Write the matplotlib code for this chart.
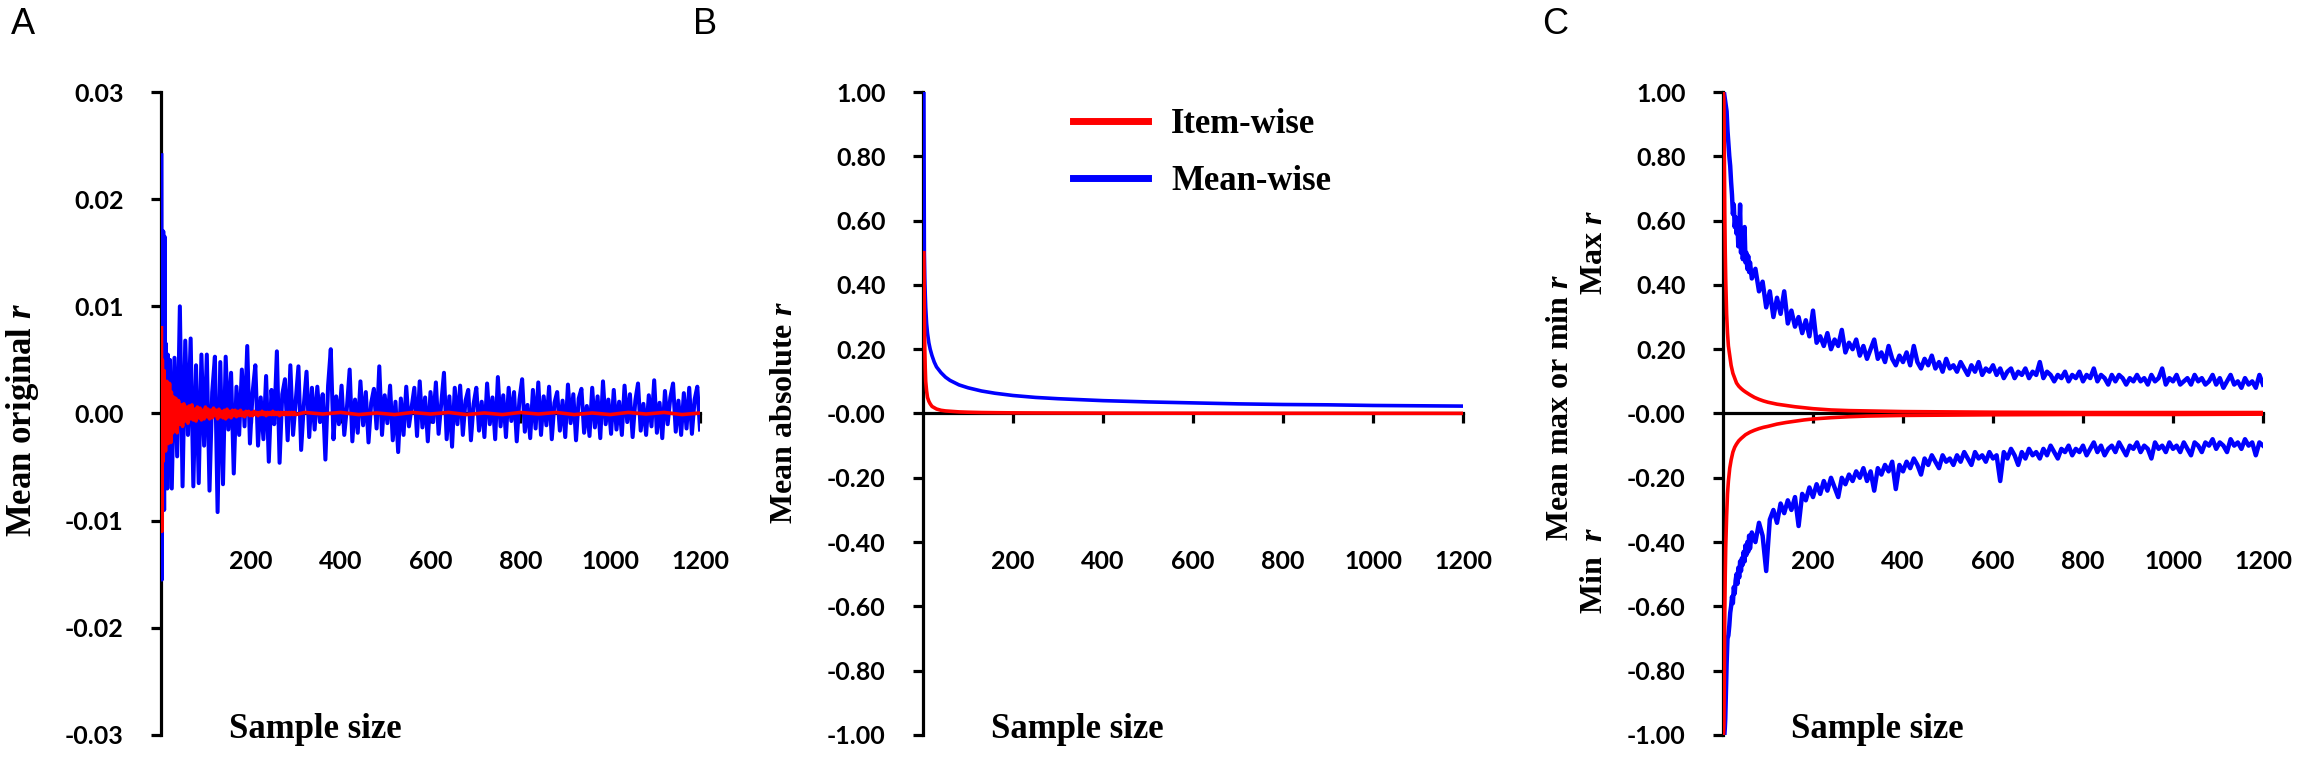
import numpy as np
import matplotlib
matplotlib.use('Agg')
import matplotlib.pyplot as plt
from matplotlib.ticker import FormatStrFormatter

plt.rcParams['font.family'] = ['Lato', 'DejaVu Sans']
plt.rcParams['font.weight'] = 'bold'
plt.rcParams['axes.unicode_minus'] = False
plt.rcParams['mathtext.fontset'] = 'custom'
plt.rcParams['mathtext.rm'] = 'Liberation Serif:bold'
plt.rcParams['mathtext.it'] = 'Liberation Serif:italic:bold'

RED = '#ff0000'
BLUE = '#0000ff'
SERIF = 'Liberation Serif'

# ---------------- Panel A : mean original r (values in units of 0.001) ----------------
n_a = np.concatenate([np.arange(1, 21), np.arange(24, 1201, 6)])
mean_a = [24.1, -15.5, 8.0, -6.0, 17.0, 3.0, -9.0, 16.5, 2.0, -6.5,
          6.5, -3.0, 4.0, -7.0, 5.5, 1.0, -4.0, 3.5, -2.5, 5.0,
          -7.0, 5.2, -4.0, 10.0, -6.8, 6.8, -2.0, 7.0, -6.8, 4.5,
          -6.5, 5.5, -3.0, 5.5, -7.2, 2.0, 5.3, -9.2, 4.8, -6.6,
          5.3, -1.5, 3.8, -5.6, 2.5, -2.0, 4.1, -1.2, 6.3, -2.8,
          2.0, 4.5, -3.0, 1.5, -2.4, 3.5, -4.5, 2.2, -1.0, 5.8,
          -4.6, 1.8, 3.2, -2.5, 4.5, -2.0, 1.2, 4.4, -3.4, 0.8,
          3.9, -2.2, 2.4, -1.5, 2.5, -0.8, 1.8, -4.3, 2.6, 6.0,
          -2.4, 1.6, -1.0, 2.6, -2.0, 0.6, 4.1, -2.6, 1.3, -1.8,
          3.0, -1.1, 2.0, -2.7, 1.0, 2.3, -1.4, 4.4, -2.0, 1.7,
          -0.9, 2.6, -2.5, 1.1, -3.6, 1.4, -2.0, 2.5, -1.2, 0.6,
          2.4, -2.1, 3.0, -1.3, 1.5, -2.6, 2.0, -0.8, 2.9, -1.9,
          1.0, 3.8, -2.4, 1.6, -3.1, 2.4, -1.0, 2.6, -2.0, 1.2,
          2.2, -2.5, 0.9, 2.4, -1.6, 1.1, -2.2, 2.8, -1.0, 1.5,
          -2.4, 3.4, -1.2, 1.7, -2.2, 2.4, -0.7, 2.0, -2.6, 1.3,
          3.2, -1.7, 0.8, -2.3, 2.2, -1.4, 2.9, -2.0, 1.6, -1.1,
          2.5, -2.4, 1.0, 2.0, -1.6, 1.2, -2.2, 2.7, -0.9, 1.8,
          -2.5, 1.4, 2.3, -1.8, 0.7, -2.1, 2.4, -1.3, 1.6, -2.3,
          3.0, -1.0, 1.3, -1.9, 2.2, -1.5, 1.1, -2.0, 2.6, -0.8,
          1.8, -2.2, 1.2, 2.8, -1.6, 0.9, -2.0, 1.7, -1.2, 3.1,
          -1.8, 1.0, -2.3, 2.1, -1.0, 1.5, 2.8, -1.7, 1.2, -2.0,
          1.9, -1.4, 2.4, -1.9, 1.3, 2.5, -1.5]

n_item_a = np.concatenate([np.arange(1, 31), np.arange(33, 301, 3), np.arange(320, 1201, 40)])
item_a = [8.0, -11.0, 5.0, -4.5, 3.5, -3.0, 4.0, -2.5, 2.0, -3.5,
          2.5, -1.5, 3.0, -2.0, 1.5, -2.8, 2.2, -1.2, 2.8, -2.0,
          1.0, -2.7, 2.0, -1.0, 1.6, -1.8, 1.2, -1.0, 1.5, -1.3,
          1.4, -1.8, 1.2, -1.0, 0.8, -1.2, 0.9, -0.7, 0.6, -0.9,
          0.7, -0.5, 0.8, -0.6, 0.4, -0.7, 0.6, -0.4, 0.5, -0.6,
          0.3, -0.5, 0.6, -0.3, 0.4, -0.5, 0.3, -0.4, 0.5, -0.2,
          0.3, -0.5, 0.4, -0.3, 0.2, -0.4, 0.3, -0.5, 0.4, -0.3,
          0.2, -0.4, 0.3, -0.2, 0.3, -0.3, 0.2, -0.2, 0.3, -0.2,
          0.1, -0.3, 0.2, -0.1, 0.2, -0.2, 0.1, -0.2, 0.2, -0.1,
          0.1, -0.2, 0.1, -0.1, 0.2, -0.1, 0.1, -0.2, 0.1, -0.1,
          0.1, -0.1, 0.2, -0.1, 0.1, -0.1, 0.1, -0.2, 0.1, -0.1,
          0.1, -0.1, 0.1, -0.1, 0.1, -0.1, 0.1, -0.1, 0.1, -0.1,
          0.1, -0.05, 0.1, -0.1, 0.05, -0.1, 0.1, -0.05, 0.1, -0.1,
          0.05, -0.1, 0.1, -0.05, 0.1, -0.1, 0.05, -0.1, 0.1, -0.05,
          0.1, -0.1, 0.05]

# ---------------- Panel B : mean absolute r ----------------
n_b = [2, 3, 4, 5, 6, 8, 10, 13, 16, 20, 25, 30, 40, 50, 60, 80, 100, 130, 160, 200,
       250, 300, 400, 500, 600, 700, 800, 900, 1000, 1100, 1200]
mean_b = [1.00, 0.50, 0.42, 0.37, 0.33, 0.28, 0.25, 0.22, 0.20, 0.18, 0.16, 0.145, 0.127,
          0.113, 0.103, 0.089, 0.080, 0.070, 0.063, 0.056, 0.050, 0.046, 0.040, 0.036,
          0.033, 0.030, 0.028, 0.027, 0.025, 0.024, 0.023]
item_b = [0.50, 0.30, 0.20, 0.14, 0.10, 0.07, 0.05, 0.038, 0.03, 0.022, 0.018, 0.014, 0.010,
          0.008, 0.007, 0.005, 0.004, 0.003, 0.0025, 0.002, 0.0017, 0.0015, 0.0012, 0.001,
          0.0009, 0.0008, 0.0007, 0.0007, 0.0006, 0.0006, 0.0005]

# ---------------- Panel C : mean max / min r ----------------
n_c = np.concatenate([np.arange(1, 11), np.arange(12, 61, 2), np.arange(64, 1201, 8)])
max_c = [1.00, 1.00, 0.99, 0.98, 0.97, 0.96, 0.95, 0.94, 0.91, 0.88,
         0.84, 0.80, 0.77, 0.72, 0.68, 0.62, 0.65, 0.58, 0.61, 0.56,
         0.60, 0.52, 0.57, 0.65, 0.50, 0.55, 0.48, 0.52, 0.58, 0.47,
         0.50, 0.45, 0.49, 0.44, 0.47,
         0.42, 0.45, 0.38, 0.41, 0.33, 0.38, 0.30, 0.36, 0.31, 0.38,
         0.28, 0.32, 0.27, 0.30, 0.25, 0.29, 0.24, 0.32, 0.22, 0.24,
         0.21, 0.25, 0.20, 0.23, 0.21, 0.26, 0.19, 0.22, 0.20, 0.23,
         0.18, 0.21, 0.17, 0.20, 0.23, 0.17, 0.19, 0.16, 0.21, 0.17,
         0.15, 0.18, 0.16, 0.19, 0.15, 0.21, 0.16, 0.14, 0.17, 0.15,
         0.18, 0.14, 0.16, 0.13, 0.17, 0.14, 0.15, 0.13, 0.16, 0.14,
         0.12, 0.15, 0.13, 0.16, 0.12, 0.14, 0.13, 0.15, 0.12, 0.14,
         0.11, 0.13, 0.14, 0.11, 0.13, 0.12, 0.14, 0.11, 0.13, 0.12,
         0.16, 0.11, 0.13, 0.12, 0.10, 0.12, 0.11, 0.13, 0.10, 0.12,
         0.11, 0.13, 0.10, 0.12, 0.11, 0.14, 0.10, 0.12, 0.11, 0.09,
         0.12, 0.10, 0.12, 0.11, 0.09, 0.11, 0.10, 0.12, 0.10, 0.11,
         0.09, 0.12, 0.10, 0.11, 0.14, 0.09, 0.11, 0.10, 0.12, 0.09,
         0.10, 0.11, 0.09, 0.12, 0.10, 0.11, 0.09, 0.10, 0.12, 0.09,
         0.11, 0.08, 0.10, 0.12, 0.09, 0.10, 0.08, 0.11, 0.09, 0.10,
         0.08, 0.12, 0.09]
min_c = [-1.00, -1.00, -1.00, -0.98, -0.95, -0.90, -0.84, -0.78, -0.74, -0.70,
         -0.69, -0.66, -0.62, -0.60, -0.57, -0.59, -0.54, -0.56, -0.52, -0.50,
         -0.53, -0.48, -0.51, -0.46, -0.49, -0.45, -0.47, -0.43, -0.46, -0.41,
         -0.44, -0.40, -0.43, -0.38, -0.42,
         -0.37, -0.40, -0.34, -0.38, -0.49, -0.33, -0.30, -0.34, -0.28, -0.31,
         -0.27, -0.30, -0.26, -0.35, -0.25, -0.27, -0.23, -0.26, -0.22, -0.25,
         -0.21, -0.24, -0.20, -0.23, -0.26, -0.20, -0.22, -0.19, -0.21, -0.18,
         -0.20, -0.17, -0.21, -0.18, -0.24, -0.17, -0.19, -0.16, -0.18, -0.15,
         -0.235, -0.16, -0.18, -0.15, -0.17, -0.14, -0.16, -0.19, -0.14, -0.16,
         -0.13, -0.15, -0.17, -0.13, -0.15, -0.14, -0.16, -0.13, -0.15, -0.12,
         -0.14, -0.16, -0.12, -0.14, -0.13, -0.15, -0.12, -0.14, -0.13, -0.21,
         -0.12, -0.14, -0.11, -0.13, -0.16, -0.12, -0.14, -0.11, -0.13, -0.12,
         -0.14, -0.11, -0.13, -0.10, -0.12, -0.14, -0.11, -0.12, -0.10, -0.13,
         -0.11, -0.12, -0.10, -0.13, -0.11, -0.09, -0.12, -0.10, -0.13, -0.11,
         -0.10, -0.12, -0.09, -0.11, -0.13, -0.10, -0.11, -0.09, -0.12, -0.10,
         -0.11, -0.14, -0.09, -0.11, -0.10, -0.12, -0.09, -0.11, -0.10, -0.12,
         -0.09, -0.11, -0.13, -0.09, -0.10, -0.12, -0.09, -0.10, -0.08, -0.11,
         -0.09, -0.10, -0.12, -0.08, -0.10, -0.09, -0.11, -0.08, -0.10, -0.09,
         -0.13, -0.09, -0.10]

n_item_c = [1, 2, 3, 4, 5, 6, 8, 10, 12, 15, 18, 22, 26, 30, 35, 40, 45, 50, 60, 70, 80,
            90, 100, 120, 140, 160, 180, 200, 240, 280, 320, 400, 500, 600, 800, 1000, 1200]
item_max_c = [1.0, 0.97, 0.80, 0.62, 0.50, 0.42, 0.31, 0.25, 0.21, 0.18, 0.15, 0.125, 0.11,
              0.095, 0.085, 0.078, 0.072, 0.067, 0.058, 0.050, 0.044, 0.039, 0.035, 0.029,
              0.025, 0.021, 0.018, 0.015, 0.011, 0.009, 0.008, 0.006, 0.005, 0.004, 0.003,
              0.003, 0.003]
item_min_c = [-1.0, -0.97, -0.80, -0.62, -0.50, -0.42, -0.32, -0.25, -0.21, -0.17, -0.145,
              -0.12, -0.105, -0.095, -0.085, -0.078, -0.072, -0.066, -0.058, -0.052, -0.047,
              -0.043, -0.040, -0.033, -0.028, -0.024, -0.020, -0.017, -0.013, -0.010, -0.008,
              -0.006, -0.005, -0.004, -0.003, -0.003, -0.002]

x_ticks = [200, 400, 600, 800, 1000, 1200]

# ---------------- figure ----------------
W, H = 2303, 760
fig = plt.figure(figsize=(W / 100, H / 100), dpi=100)
fig.patch.set_facecolor('white')


def add_axes_px(left, right, top, bottom):
    return fig.add_axes([left / W, 1 - bottom / H, (right - left) / W, (bottom - top) / H])


def style(ax, ylim, yticks, fmt):
    ax.set_xlim(0, 1200)
    ax.set_ylim(*ylim)
    ax.spines['top'].set_visible(False)
    ax.spines['right'].set_visible(False)
    ax.spines['bottom'].set_position(('data', 0))
    ax.spines['left'].set_linewidth(2.3)
    ax.spines['bottom'].set_linewidth(2.3)
    ax.set_xticks(x_ticks)
    ax.set_yticks(yticks)
    ax.yaxis.set_major_formatter(FormatStrFormatter(fmt))
    ax.tick_params(axis='both', direction='out', length=7, width=2.3, labelsize=18)
    ax.tick_params(axis='y', pad=20)
    ax.tick_params(axis='x', pad=91)
    ax.set_facecolor('none')


def sl(n, v):
    k = min(len(n), len(v))
    return np.asarray(n[:k]), np.asarray(v[:k])


LW = 2.6

# Panel A
axA = add_axes_px(161, 700, 92, 735)
x, y = sl(n_a, mean_a)
axA.plot(x, y / 1000, color=BLUE, lw=2.9, zorder=3)
x, y = sl(n_item_a, item_a)
axA.plot(x, y / 1000, color=RED, lw=LW, zorder=4)
style(axA, (-0.03, 0.03), [-0.03, -0.02, -0.01, 0.0, 0.01, 0.02, 0.03], '%.2f')

# Panel B
axB = add_axes_px(923, 1463, 92, 735)
axB.plot(n_b, item_b, color=RED, lw=LW, zorder=4, label='Item-wise')
axB.plot(n_b, mean_b, color=BLUE, lw=LW, zorder=3, label='Mean-wise')
style(axB, (-1, 1), np.round(np.arange(-1, 1.01, 0.2), 2), '%.2f')
leg = axB.legend(loc='upper left', bbox_to_anchor=(1073 / W, 1 - 108 / H),
                 bbox_transform=fig.transFigure, frameon=False,
                 prop={'family': SERIF, 'weight': 'bold', 'size': 25},
                 handlelength=2.15, handletextpad=0.68, labelspacing=0.7,
                 borderpad=0, borderaxespad=0)
for line in leg.get_lines():
    line.set_linewidth(5)

# Panel C
axC = add_axes_px(1723, 2263, 92, 735)
x, y = sl(n_c, max_c)
axC.plot(x, y, color=BLUE, lw=3.2, zorder=3)
x, y = sl(n_c, min_c)
axC.plot(x, y, color=BLUE, lw=3.2, zorder=3)
axC.plot(n_item_c, item_max_c, color=RED, lw=LW, zorder=4)
axC.plot(n_item_c, item_min_c, color=RED, lw=LW, zorder=4)
style(axC, (-1, 1), np.round(np.arange(-1, 1.01, 0.2), 2), '%.2f')


def ftext(px, py, s, **kw):
    fig.text(px / W, 1 - py / H, s, ha='center', va='center', **kw)


lab = dict(family=SERIF, weight='bold', rotation=90, rotation_mode='anchor')
ftext(23, 420, 'Mean original $r$', size=25, **lab)
ftext(785, 413, 'Mean absolute $r$', size=23, **lab)
ftext(1561, 407, 'Mean max or min $r$', size=23, **lab)
ftext(1594, 253, 'Max $r$', size=23, **lab)
ftext(1595, 570, 'Min  $r$', size=23, **lab)

for cx in (315, 1077, 1877):
    ftext(cx, 730, 'Sample size', family=SERIF, weight='bold', size=25)

for cx, s in ((23, 'A'), (705, 'B'), (1555, 'C')):
    ftext(cx, 25, s, family='Liberation Sans', weight='normal', size=26)

fig.savefig('out.png', dpi=100, facecolor='white')
